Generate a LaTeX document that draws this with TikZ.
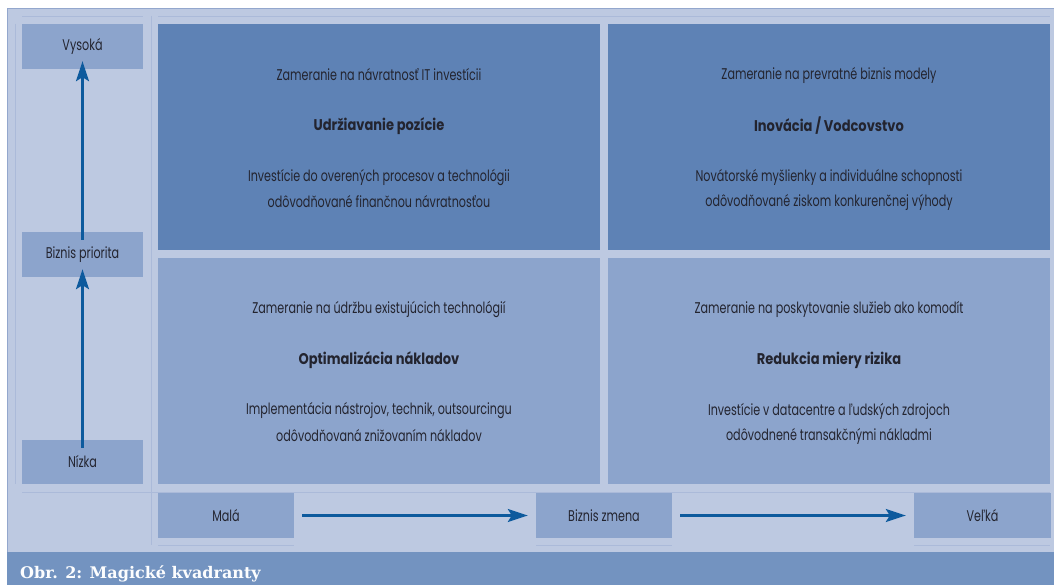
\documentclass[tikz,border=0pt]{standalone}
\usepackage{fontspec}
\setmainfont{Poppins}[FakeStretch=0.72, BoldFeatures={FakeStretch=0.84}]
\newfontfamily\captionfont{DejaVu Serif}
\usetikzlibrary{arrows.meta}
\definecolor{paneBg}{HTML}{BDC9E1}
\definecolor{paneEdge}{HTML}{93A7CD}
\definecolor{gridLn}{HTML}{ABBAD9}
\definecolor{quadDark}{HTML}{5E82B5}
\definecolor{quadLight}{HTML}{8CA4CC}
\definecolor{capBar}{HTML}{7393C0}
\definecolor{arrowBlue}{HTML}{0D5A9D}
\definecolor{inkText}{HTML}{23242F}
\tikzset{
  txt/.style={font=\fontsize{15.5}{18}\selectfont, text=inkText, inner sep=0pt, anchor=center},
  ttl/.style={font=\fontsize{15.5}{18}\selectfont\bfseries, text=inkText, inner sep=0pt, anchor=center},
  labelbox/.style={fill=quadLight, inner sep=0pt, font=\fontsize{15.5}{18}\selectfont, text=inkText},
  quad/.style={inner sep=0pt, minimum width=442pt, minimum height=226pt},
  flow/.style={draw=arrowBlue, line width=2.2pt, -{Stealth[length=20pt,width=13pt,inset=4pt]}},
  faint/.style={draw=gridLn, line width=0.8pt}
}
\begin{document}
\begin{tikzpicture}[x=1pt,y=-1pt]
\useasboundingbox (0,0) rectangle (1054,585);
% panel and caption bar
\fill[paneBg] (7,8) rectangle (1054,552);
\draw[paneEdge, line width=1pt] (7,552) -- (7,8.5) -- (1054,8.5);
\fill[capBar] (7,552) rectangle (1054,585);
\node[anchor=base west, inner sep=0pt, text=white!96!paneBg,
      font=\captionfont\fontsize{16}{20}\selectfont\bfseries] (cap) at (20,578) {Obr. 2: Magické kvadranty};
% faint table rules
\draw[faint] (22,16) -- (143,16) (158,16) -- (1050,16);
\draw[faint] (15,24) -- (15,484);
\draw[faint] (151,16) -- (151,545);
\draw[faint] (22,492.5) -- (1050,492.5);
\draw[faint] (158,545) -- (294,545) (536,545) -- (672,545) (914,545) -- (1050,545);
% axis labels
\node[labelbox, minimum width=121pt, minimum height=45pt] (vys) at (82.5,46.5) {Vysoká};
\node[labelbox, minimum width=121pt, minimum height=45pt] (bp) at (82.5,254.5) {Biznis priorita};
\node[labelbox, minimum width=121pt, minimum height=44pt] (niz) at (82.5,462) {Nízka};
\node[labelbox, minimum width=136pt, minimum height=45pt] (mala) at (226,515.5) {Malá};
\node[labelbox, minimum width=136pt, minimum height=45pt] (bz) at (604,515.5) {Biznis zmena};
\node[labelbox, minimum width=137pt, minimum height=45pt] (velka) at (982.5,515.5) {Veľká};
% quadrants
\node[quad, fill=quadDark] (tl) at (379,137) {};
\node[quad, fill=quadDark] (tr) at (829,137) {};
\node[quad, fill=quadLight] (bl) at (379,371) {};
\node[quad, fill=quadLight] (br) at (829,371) {};
% quadrant texts
\node[txt] (tl1) at (379,75) {Zameranie na návratnosť IT investícii};
\node[ttl] (tl2) at (379,126) {Udržiavanie pozície};
\node[txt] (tl3) at (379,177) {Investície do overených procesov a technológii};
\node[txt] (tl4) at (379,202) {odôvodňované finančnou návratnosťou};
\node[txt] (tr1) at (829,75) {Zameranie na prevratné biznis modely};
\node[ttl] (tr2) at (829,126) {Inovácia / Vodcovstvo};
\node[txt] (tr3) at (829,177) {Novátorské myšlienky a individuálne schopnosti};
\node[txt] (tr4) at (829,202) {odôvodňované ziskom konkurenčnej výhody};
\node[txt] (bl1) at (379,309) {Zameranie na údržbu existujúcich technológií};
\node[ttl] (bl2) at (379,360) {Optimalizácia nákladov};
\node[txt] (bl3) at (379,411) {Implementácia nástrojov, technik, outsourcingu};
\node[txt] (bl4) at (379,436) {odôvodňovaná znižovaním nákladov};
\node[txt] (br1) at (829,309) {Zameranie na poskytovanie služieb ako komodít};
\node[ttl] (br2) at (829,360) {Redukcia miery rizika};
\node[txt] (br3) at (829,411) {Investície v datacentre a ľudských zdrojoch};
\node[txt] (br4) at (829,436) {odôvodnené transakčnými nákladmi};
% axis arrows
\draw[flow] ([yshift=-8pt]niz.north) -- ([yshift=8pt]bp.south);
\draw[flow] ([yshift=-8pt]bp.north) -- ([yshift=8pt]vys.south);
\draw[flow] ([xshift=8pt]mala.east) -- ([xshift=-8pt]bz.west);
\draw[flow] ([xshift=8pt]bz.east) -- ([xshift=-8pt]velka.west);
\end{tikzpicture}
\end{document}
